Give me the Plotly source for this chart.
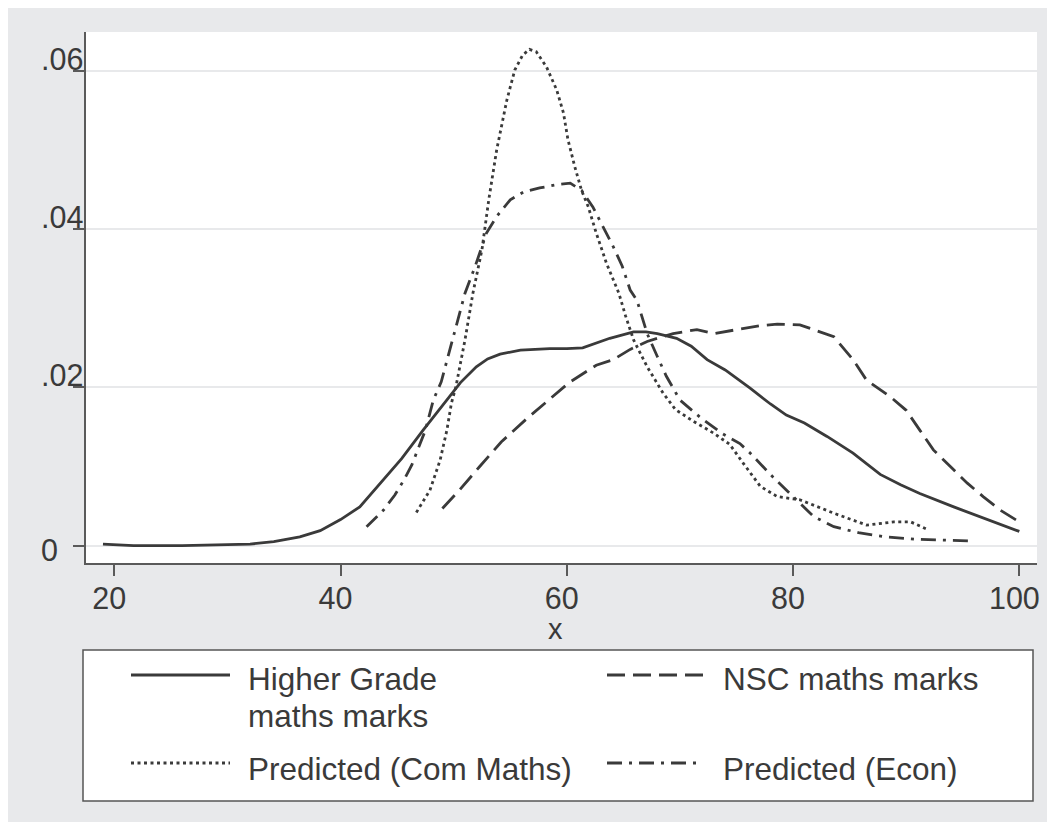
import plotly.graph_objects as go

# kernel density estimates
hg_x = [19.0, 21.7, 26.0, 30.0, 32.0, 34.1, 36.4, 38.2, 40.0, 41.7, 43.5, 45.4, 47.3,
        49.4, 50.6, 52.0, 53.0, 54.1, 55.9, 58.5, 60.0, 61.4, 62.9, 63.8, 65.9, 67.0,
        68.0, 69.7, 71.0, 72.4, 74.0, 76.2, 78.0, 79.4, 81.0, 83.0, 85.3, 87.7, 89.5,
        91.2, 94.2, 96.8, 100.0]
hg_y = [0.0002, 0.0000, 0.0000, 0.0001, 0.0002, 0.0005, 0.0011, 0.0019, 0.0033, 0.0049,
        0.0078, 0.0110, 0.0146, 0.0184, 0.0206, 0.0226, 0.0236, 0.0242, 0.0247, 0.0249,
        0.0249, 0.0250, 0.0257, 0.0262, 0.0270, 0.0270, 0.0268, 0.0262, 0.0252, 0.0235,
        0.0222, 0.0199, 0.0179, 0.0165, 0.0155, 0.0138, 0.0117, 0.0090, 0.0077, 0.0066,
        0.0049, 0.0035, 0.0018]

nsc_x = [49.0, 50.5, 52.3, 54.2, 56.5, 58.5, 60.2, 62.6, 64.1, 65.6, 67.1, 69.4, 71.5,
         73.0, 74.7, 77.1, 78.6, 80.6, 81.8, 83.6, 85.3, 86.5, 88.6, 90.0, 91.2, 92.4,
         93.9, 95.4, 96.8, 98.3, 100.0]
nsc_y = [0.0047, 0.0070, 0.0100, 0.0131, 0.0161, 0.0186, 0.0206, 0.0228, 0.0235, 0.0248,
         0.0258, 0.0268, 0.0273, 0.0268, 0.0272, 0.0278, 0.0280, 0.0279, 0.0273, 0.0264,
         0.0235, 0.0209, 0.0188, 0.0171, 0.0146, 0.0121, 0.0100, 0.0079, 0.0062, 0.0045,
         0.0030]

com_x = [46.7, 47.9, 48.8, 49.4, 49.8, 50.2, 51.0, 51.7, 52.5, 53.1, 53.8, 54.7, 55.4,
         56.1, 56.7, 57.3, 58.2, 59.1, 59.7, 60.1, 60.7, 61.3, 61.9, 62.6, 63.5, 64.6,
         65.2, 65.9, 67.1, 68.5, 69.6, 71.2, 73.0, 74.4, 75.6, 77.1, 78.6, 80.6, 83.6,
         86.5, 88.9, 90.4, 91.8]
com_y = [0.0042, 0.0070, 0.0108, 0.0146, 0.0180, 0.0201, 0.0260, 0.0319, 0.0374, 0.0437,
         0.0500, 0.0563, 0.0601, 0.0620, 0.0627, 0.0624, 0.0605, 0.0576, 0.0547, 0.0513,
         0.0479, 0.0449, 0.0428, 0.0395, 0.0357, 0.0319, 0.0290, 0.0260, 0.0226, 0.0193,
         0.0172, 0.0157, 0.0142, 0.0128, 0.0104, 0.0075, 0.0062, 0.0058, 0.0041, 0.0026,
         0.0030, 0.0030, 0.0021]

econ_x = [42.3, 43.8, 44.8, 45.6, 46.3, 46.9, 47.5, 48.2, 48.9, 51.0, 51.9, 52.9, 53.8,
          55.0, 56.2, 57.6, 59.1, 60.3, 61.3, 62.3, 63.2, 64.1, 64.9, 65.6, 66.2, 67.1,
          68.0, 68.8, 70.0, 71.8, 73.7, 75.3, 76.2, 78.2, 80.0, 81.8, 83.6, 85.9, 88.2,
          90.9, 93.3, 95.8]
econ_y = [0.0024, 0.0045, 0.0064, 0.0083, 0.0102, 0.0123, 0.0146, 0.0184, 0.0207, 0.0319,
          0.0353, 0.0395, 0.0416, 0.0437, 0.0447, 0.0452, 0.0456, 0.0458, 0.0449, 0.0428,
          0.0403, 0.0378, 0.0353, 0.0323, 0.0310, 0.0268, 0.0239, 0.0214, 0.0184, 0.0162,
          0.0142, 0.0129, 0.0117, 0.0087, 0.0062, 0.0037, 0.0024, 0.0016, 0.0011, 0.0008,
          0.0007, 0.0006]

x_ticks = [20, 40, 60, 80, 100]
y_ticks = [0, 0.02, 0.04, 0.06]
y_tick_text = ["0", ".02", ".04", ".06"]

series = [
    ("Higher Grade<br>maths marks", hg_x, hg_y, "solid"),
    ("NSC maths marks", nsc_x, nsc_y, "18px,8px"),
    ("Predicted (Com Maths)", com_x, com_y, "3px,3.5px"),
    ("Predicted (Econ)", econ_x, econ_y, "15px,7px,3px,7px"),
]

INK = "#3a3a3a"
BG = "#e8e9eb"
FONT = "Liberation Sans, Arial, sans-serif"

# page sits 8px in from the top-left (body margin); page coords below
OFF = 8
W, H = 1047, 814
L, R, T = 86 - OFF, 1055 - OFF - 1029, 32 - OFF
B = H - (563 - OFF)
PW, PH = W - L - R, H - T - B


def px(x):
    return (x - OFF - L) / PW


def py(y):
    return (H - B - (y - OFF)) / PH


fig = go.Figure()
for name, xs, ys, dash in series:
    fig.add_trace(go.Scatter(
        x=xs, y=ys, mode="lines", name=name.replace("<br>", " "),
        line=dict(color=INK, width=2.8, dash=dash),
    ))

# hand-drawn legend box, Stata style (two columns, long samples)
shapes = [
    dict(type="rect", xref="paper", yref="paper", x0=px(83), x1=px(1033),
         y0=py(801), y1=py(650), fillcolor="white",
         line=dict(color="#555555", width=1.5)),
]

annotations = []
legend_pos = [(131, 230, 675, 246, [679, 715.5]),
              (607, 703, 675, 721, [679]),
              (131, 230, 763, 246, [769]),
              (607, 703, 763, 721, [769])]
for (name, _, _, dash), (lx0, lx1, ly, tx, tys) in zip(series, legend_pos):
    shapes.append(dict(type="line", xref="paper", yref="paper",
                       x0=px(lx0), x1=px(lx1), y0=py(ly), y1=py(ly),
                       line=dict(color=INK, width=2.8, dash=dash)))
    for line_text, ty in zip(name.split("<br>"), tys):
        annotations.append(dict(
            text=line_text, xref="paper", yref="paper", x=px(tx), y=py(ty),
            xanchor="left", yanchor="middle", showarrow=False,
            font=dict(family=FONT, size=31.5, color=INK)))

# y tick labels are left-aligned in the reference
for v, t in zip(y_ticks, y_tick_text):
    annotations.append(dict(
        text=t, xref="paper", yref="y", x=px(39), y=v, yshift=12 if v else -4,
        xanchor="left", yanchor="middle", showarrow=False,
        font=dict(family=FONT, size=30.5, color=INK)))

annotations.append(dict(
    text="x", xref="paper", yref="paper", x=px(555), y=py(629),
    xanchor="center", yanchor="middle", showarrow=False,
    font=dict(family=FONT, size=29, color=INK)))

fig.update_layout(
    width=W, height=H,
    margin=dict(l=L, r=R, t=T, b=B),
    paper_bgcolor=BG, plot_bgcolor="white",
    showlegend=False,
    shapes=shapes, annotations=annotations,
    font=dict(family=FONT, color=INK),
)
fig.update_xaxes(
    range=[17.5, 101.56], tickvals=x_ticks, showgrid=False, zeroline=False,
    showline=True, linecolor="#5a5a5a", linewidth=2,
    ticks="outside", ticklen=11, tickwidth=1.5, tickcolor="#5a5a5a",
    tickfont=dict(family=FONT, size=30.5, color=INK),
    ticklabelshift=-5, ticklabelstandoff=-4,
)
fig.update_yaxes(
    range=[-0.00219, 0.0649], tickvals=y_ticks, showticklabels=False,
    showgrid=True, gridcolor=BG, gridwidth=2, zeroline=False,
    showline=True, linecolor="#5a5a5a", linewidth=2,
    ticks="outside", ticklen=11, tickwidth=1.5, tickcolor="#5a5a5a",
)

fig.write_html("out.html")
